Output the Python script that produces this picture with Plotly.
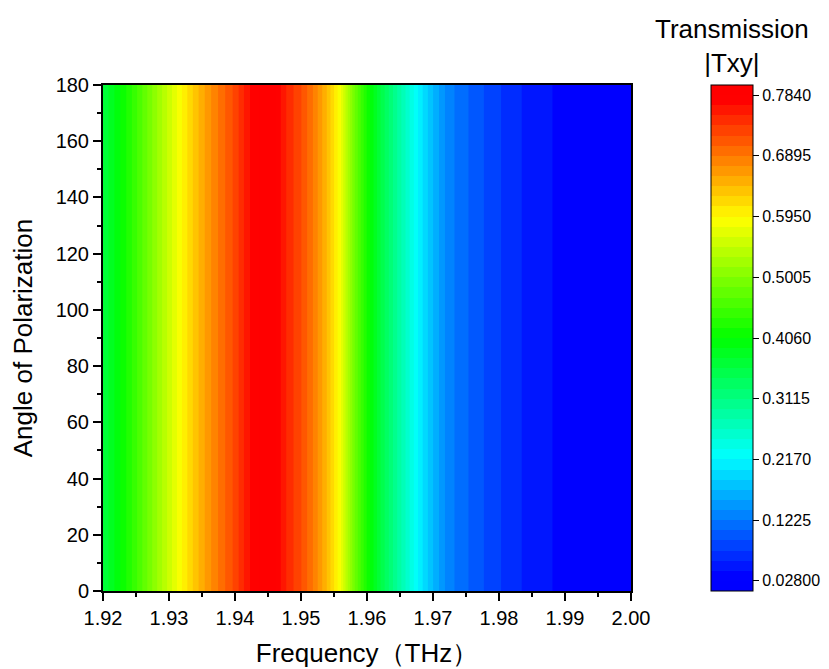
import plotly.graph_objects as go

# ---- data ----
freq_thz = [1.920, 1.922, 1.924, 1.926, 1.928, 1.930, 1.932, 1.934, 1.936, 1.938,
            1.940, 1.942, 1.944, 1.946, 1.948, 1.950, 1.952, 1.954, 1.956, 1.958,
            1.960, 1.962, 1.964, 1.966, 1.968, 1.970, 1.972, 1.974, 1.976, 1.978,
            1.980, 1.982, 1.984, 1.986, 1.988, 1.990, 1.992, 1.994, 1.996, 1.998,
            2.000]
transmission = [0.360, 0.395, 0.430, 0.470, 0.512, 0.554, 0.596, 0.634, 0.668, 0.698,
                0.726, 0.765, 0.788, 0.786, 0.748, 0.722, 0.686, 0.640, 0.582, 0.490,
                0.420, 0.360, 0.310, 0.260, 0.210, 0.170, 0.135, 0.115, 0.103, 0.089,
                0.077, 0.066, 0.057, 0.050, 0.044, 0.039, 0.0335, 0.0278, 0.026, 0.025,
                0.024]
angles_deg = list(range(0, 181, 10))
cbar_tickvals = [0.028, 0.1225, 0.217, 0.3115, 0.406, 0.5005, 0.595, 0.6895, 0.784]
cbar_ticktext = ["0.02800", "0.1225", "0.2170", "0.3115", "0.4060",
                 "0.5005", "0.5950", "0.6895", "0.7840"]
x_tickvals = [1.92, 1.93, 1.94, 1.95, 1.96, 1.97, 1.98, 1.99, 2.00]
x_ticktext = ["1.92", "1.93", "1.94", "1.95", "1.96", "1.97", "1.98", "1.99", "2.00"]
y_tickvals = list(range(0, 181, 20))

z = [transmission[:] for _ in angles_deg]

Z_LO, Z_HI, STEP = 0.01225, 0.79975, 0.01575
# plotly maps filled-contour colours over [start - size/2, last level + size/2]
DOM_LO, DOM_HI = Z_LO - STEP / 2, Z_HI + STEP / 2


def frac(v):
    return (v - DOM_LO) / (DOM_HI - DOM_LO)


rainbow = [[0.0, "rgb(0,0,255)"], [frac(0.028), "rgb(0,0,255)"],
           [frac(0.217), "rgb(0,255,255)"], [frac(0.406), "rgb(0,255,0)"],
           [frac(0.595), "rgb(255,255,0)"], [frac(0.784), "rgb(255,0,0)"],
           [1.0, "rgb(255,0,0)"]]

FONT = "Liberation Sans, Arial, sans-serif"

# page body has an 8px margin, so the figure is drawn 8px in from the corner
L, T, PW, PH = 95, 77, 528, 506
W, H = 821, 661

fig = go.Figure()
fig.add_trace(go.Contour(
    x=freq_thz, y=angles_deg, z=z,
    colorscale=rainbow, zmin=Z_LO, zmax=Z_HI, zauto=False,
    autocontour=False,
    contours=dict(start=Z_LO, end=Z_HI, size=STEP,
                  coloring="fill", showlines=False),
    line=dict(width=0),
    colorbar=dict(
        x=(703 - L) / PW, xanchor="left", xref="paper",
        y=0.5, yanchor="middle", len=1.0, lenmode="fraction",
        thickness=42, outlinewidth=1, outlinecolor="black",
        tickmode="array", tickvals=cbar_tickvals, ticktext=cbar_ticktext,
        ticks="outside", ticklen=6, tickcolor="black",
        tickfont=dict(family=FONT, size=16, color="black"),
        xpad=0, ypad=0,
    ),
))

axis_common = dict(
    showline=True, linecolor="black", linewidth=2, mirror=True,
    ticks="outside", ticklen=8, tickwidth=2, tickcolor="black",
    tickfont=dict(family=FONT, size=20, color="black"),
    showgrid=False, zeroline=False,
)
fig.update_xaxes(
    range=[1.92, 2.00], tickmode="array", tickvals=x_tickvals, ticktext=x_ticktext,
    minor=dict(ticks="outside", ticklen=4, tickwidth=2, tickcolor="black",
               dtick=0.005, tick0=1.92, showgrid=False),
    title=dict(text="Frequency（THz）", font=dict(family=FONT, size=26, color="black"),
               standoff=16),
    **axis_common,
)
fig.update_yaxes(
    range=[0, 180], tickmode="array", tickvals=y_tickvals,
    minor=dict(ticks="outside", ticklen=4, tickwidth=2, tickcolor="black",
               dtick=10, tick0=0, showgrid=False),
    title=dict(text="Angle of Polarization", font=dict(family=FONT, size=26, color="black"),
               standoff=18),
    **axis_common,
)

fig.add_annotation(
    text="Transmission<br>|Txy|", xref="paper", yref="paper",
    x=(732 - 8 - L) / PW, y=1.0 + (85 - 8 - 4) / PH, xanchor="center", yanchor="top",
    showarrow=False, align="center",
    font=dict(family=FONT, size=26, color="black"),
)

fig.update_layout(
    width=W, height=H,
    margin=dict(l=L, r=W - L - PW, t=T, b=H - T - PH, autoexpand=False),
    paper_bgcolor="white", plot_bgcolor="white",
    showlegend=False,
)

fig.write_html("out.html")
